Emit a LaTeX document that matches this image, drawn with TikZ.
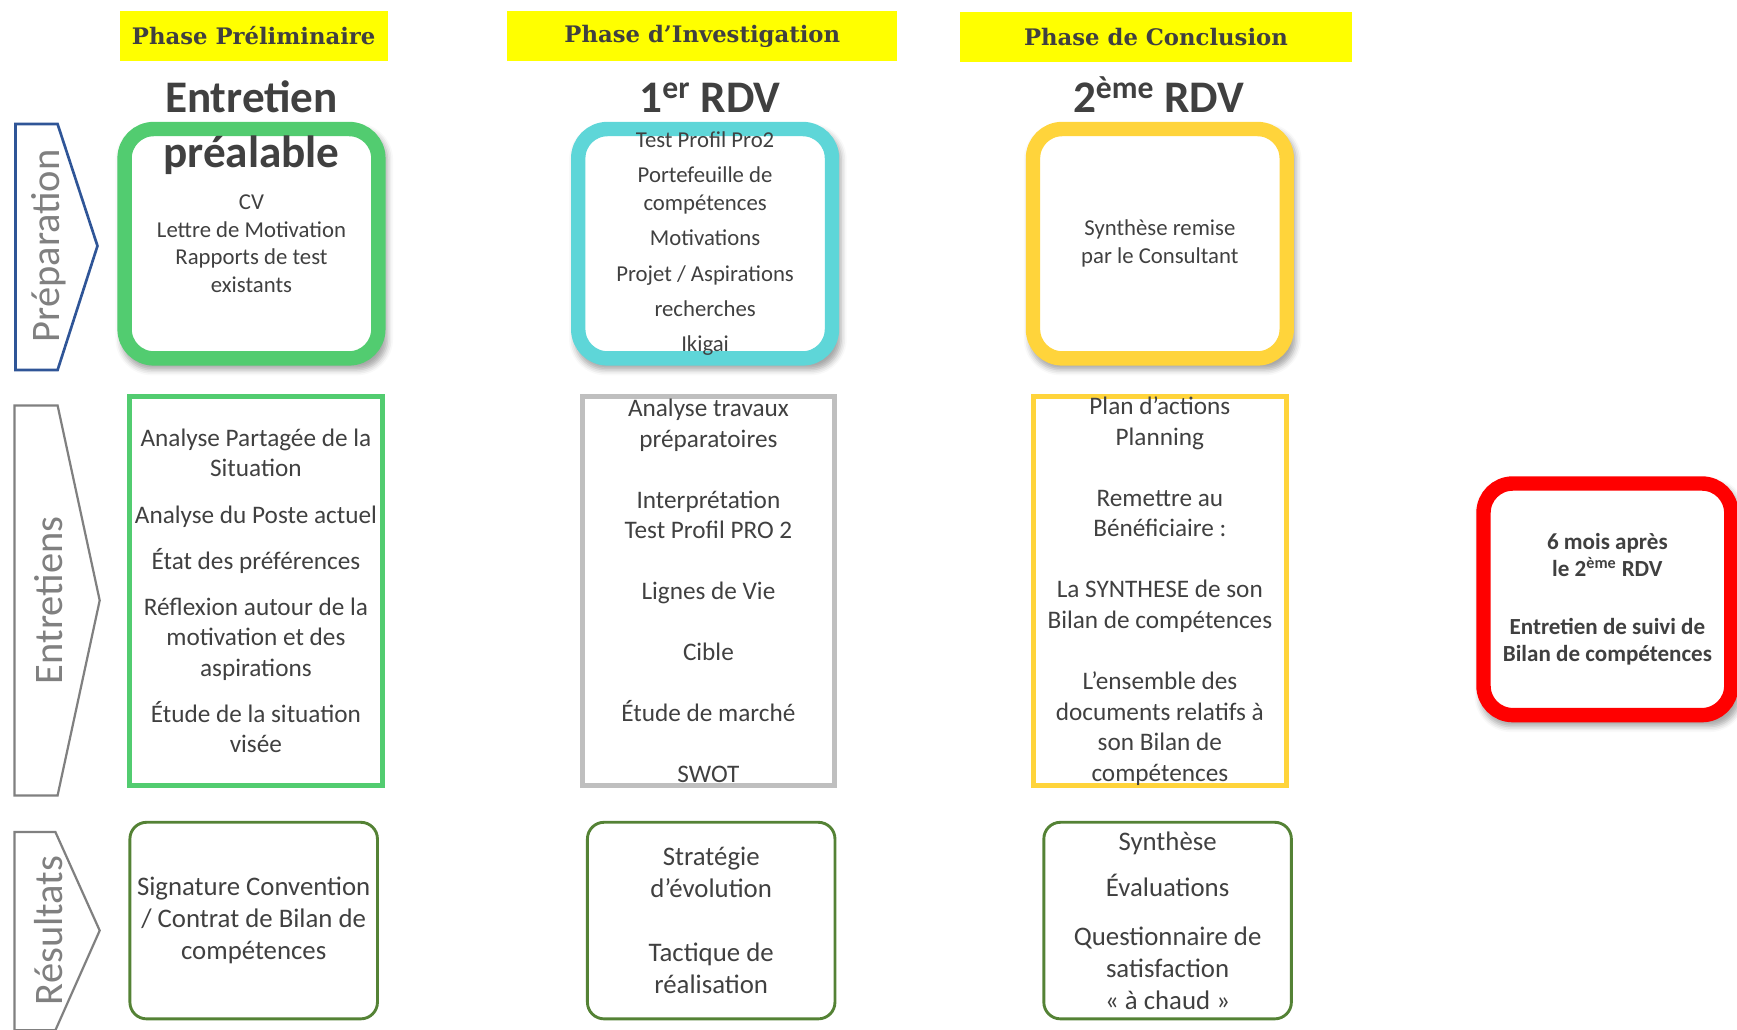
\documentclass[tikz,border=0pt]{standalone}
\usepackage{fontspec}
\setmainfont{Carlito}
\newfontfamily\bannerfont{DejaVu Serif}
\usetikzlibrary{shadows, shadows.blur}
\definecolor{bannerYellow}{RGB}{255, 255, 0}
\definecolor{textGray}{RGB}{64, 64, 64}
\definecolor{prepGreen}{RGB}{82, 204, 112}
\definecolor{invCyan}{RGB}{94, 214, 216}
\definecolor{conGold}{RGB}{255, 212, 59}
\definecolor{workGray}{RGB}{191, 191, 191}
\definecolor{resGreen}{RGB}{84, 130, 53}
\definecolor{alertRed}{RGB}{255, 0, 0}
\definecolor{prepBlue}{RGB}{47, 85, 151}
\definecolor{sideGray}{RGB}{128, 128, 128}

\begin{document}
\begin{tikzpicture}[x=0.025cm, y=-0.025cm,
  banner/.style={fill=bannerYellow, minimum height=1.125cm, inner sep=0, text=textGray,
    font=\bannerfont\bfseries\fontsize{14.6}{17}\selectfont},
  heading/.style={anchor=base, text=textGray, font=\bfseries\fontsize{29}{35}\selectfont},
  rdvbox/.style={draw, line width=0.325cm, rounded corners=0.66cm, fill=white,
    minimum width=5.725cm, minimum height=5.175cm, inner sep=0, align=center, text=textGray,
    font=\fontsize{14.6}{17.8}\selectfont,
    blur shadow={shadow xshift=0.06cm, shadow yshift=-0.12cm, shadow scale=1.05,
      shadow blur radius=0.12cm, shadow opacity=35}},
  workbox/.style={draw, line width=0.11cm, minimum width=5.7cm, minimum height=8.775cm,
    inner sep=0, align=center, text=textGray, font=\fontsize{16.2}{19.6}\selectfont},
  resbox/.style={draw=resGreen, line width=0.065cm, rounded corners=0.375cm,
    minimum width=5.585cm, minimum height=4.435cm, inner sep=0, align=center, text=textGray,
    font=\fontsize{17.2}{20.6}\selectfont},
  chevron/.style={line width=0.05cm, line join=miter},
  sidelabel/.style={rotate=90, text=sideGray, font=\fontsize{26}{31}\selectfont}
]
  \useasboundingbox (0, 0) rectangle (1568, 929);

  % LEFT: row chevrons
  \draw[chevron, prepBlue, line width=0.06cm] (14, 112) -- (52, 112) -- (88, 222) -- (52, 334) -- (14, 334) -- cycle;
  \draw[chevron, sideGray] (13, 366) -- (52, 366) -- (90, 542) -- (52, 718) -- (13, 718) -- cycle;
  \draw[chevron, sideGray] (13, 751) -- (50, 751) -- (90, 840) -- (50, 930) -- (13, 930) -- cycle;
  \node[sidelabel] (prepLbl) at (44, 222) {Préparation};
  \node[sidelabel] (entLbl) at (44, 542) {Entretiens};
  \node[sidelabel] (resLbl) at (44, 840) {Résultats};

  % Phase banners
  \node[banner, minimum width=6.05cm] (phPre) at (229, 32.5) {Phase Préliminaire};
  \node[banner, minimum width=8.8cm] (phInv) at (634, 32.5) {Phase d’Investigation};
  \node[banner, minimum width=8.825cm] (phCon) at (1043.5, 33.5) {Phase de Conclusion};

  % Preparation row
  \node[rdvbox, draw=prepGreen] (prepPre) at (227, 220) {CV\\Lettre de Motivation\\Rapports de test\\existants};
  \node[rdvbox, draw=invCyan] (prepInv) at (636.5, 220) {Test Profil Pro2\\[4.8pt]Portefeuille de\\compétences\\[4.8pt]Motivations\\[4.8pt]Projet / Aspirations\\[4.8pt]recherches\\[4.8pt]Ikigai};
  \node[rdvbox, draw=conGold] (prepCon) at (1047, 220) {Synthèse remise\\par le Consultant};

  \node[heading] (hPre1) at (227, 102) {Entretien};
  \node[heading] (hPre2) at (227, 151) {préalable};
  \node[heading] (hInv) at (641, 102) {1\textsuperscript{er} RDV};
  \node[heading] (hCon) at (1046, 102) {2\textsuperscript{ème} RDV};

  % Interviews row
  \node[workbox, draw=prepGreen] (entPre) at (231, 533.5) {Analyse Partagée de la\\Situation\\[10pt]Analyse du Poste actuel\\[10pt]État des préférences\\[10pt]Réflexion autour de la\\motivation et des\\aspirations\\[10pt]Étude de la situation\\visée};
  \node[workbox, draw=workGray] (entInv) at (639.5, 533.5) {Analyse travaux\\préparatoires\\[19.6pt]Interprétation\\Test Profil PRO 2\\[19.6pt]Lignes de Vie\\[19.6pt]Cible\\[19.6pt]Étude de marché\\[19.6pt]SWOT};
  \node[workbox, draw=conGold] (entCon) at (1047, 533.5) {Plan d’actions\\Planning\\[19.6pt]Remettre au\\Bénéficiaire :\\[19.6pt]La SYNTHESE de son\\Bilan de compétences\\[19.6pt]L’ensemble des\\documents relatifs à\\son Bilan de\\compétences};

  % Results row
  \node[resbox] (resPre) at (229, 831) {Signature Convention\\/ Contrat de Bilan de\\compétences};
  \node[resbox] (resInv) at (642, 831) {Stratégie\\d’évolution\\[20.6pt]Tactique de\\réalisation};
  \node[resbox] (resCon) at (1054, 831) {Synthèse\\[9.5pt]Évaluations\\[10.5pt]Questionnaire de\\satisfaction\\«~à chaud~»};

  % Follow-up
  \node[rdvbox, draw=alertRed, minimum width=5.59cm, minimum height=5.225cm,
    font=\bfseries\fontsize{14.8}{17.8}\selectfont] (suivi) at (1451, 541)
    {6 mois après\\le 2\textsuperscript{ème} RDV\\[19pt]Entretien de suivi de\\Bilan de compétences};
\end{tikzpicture}
\end{document}
